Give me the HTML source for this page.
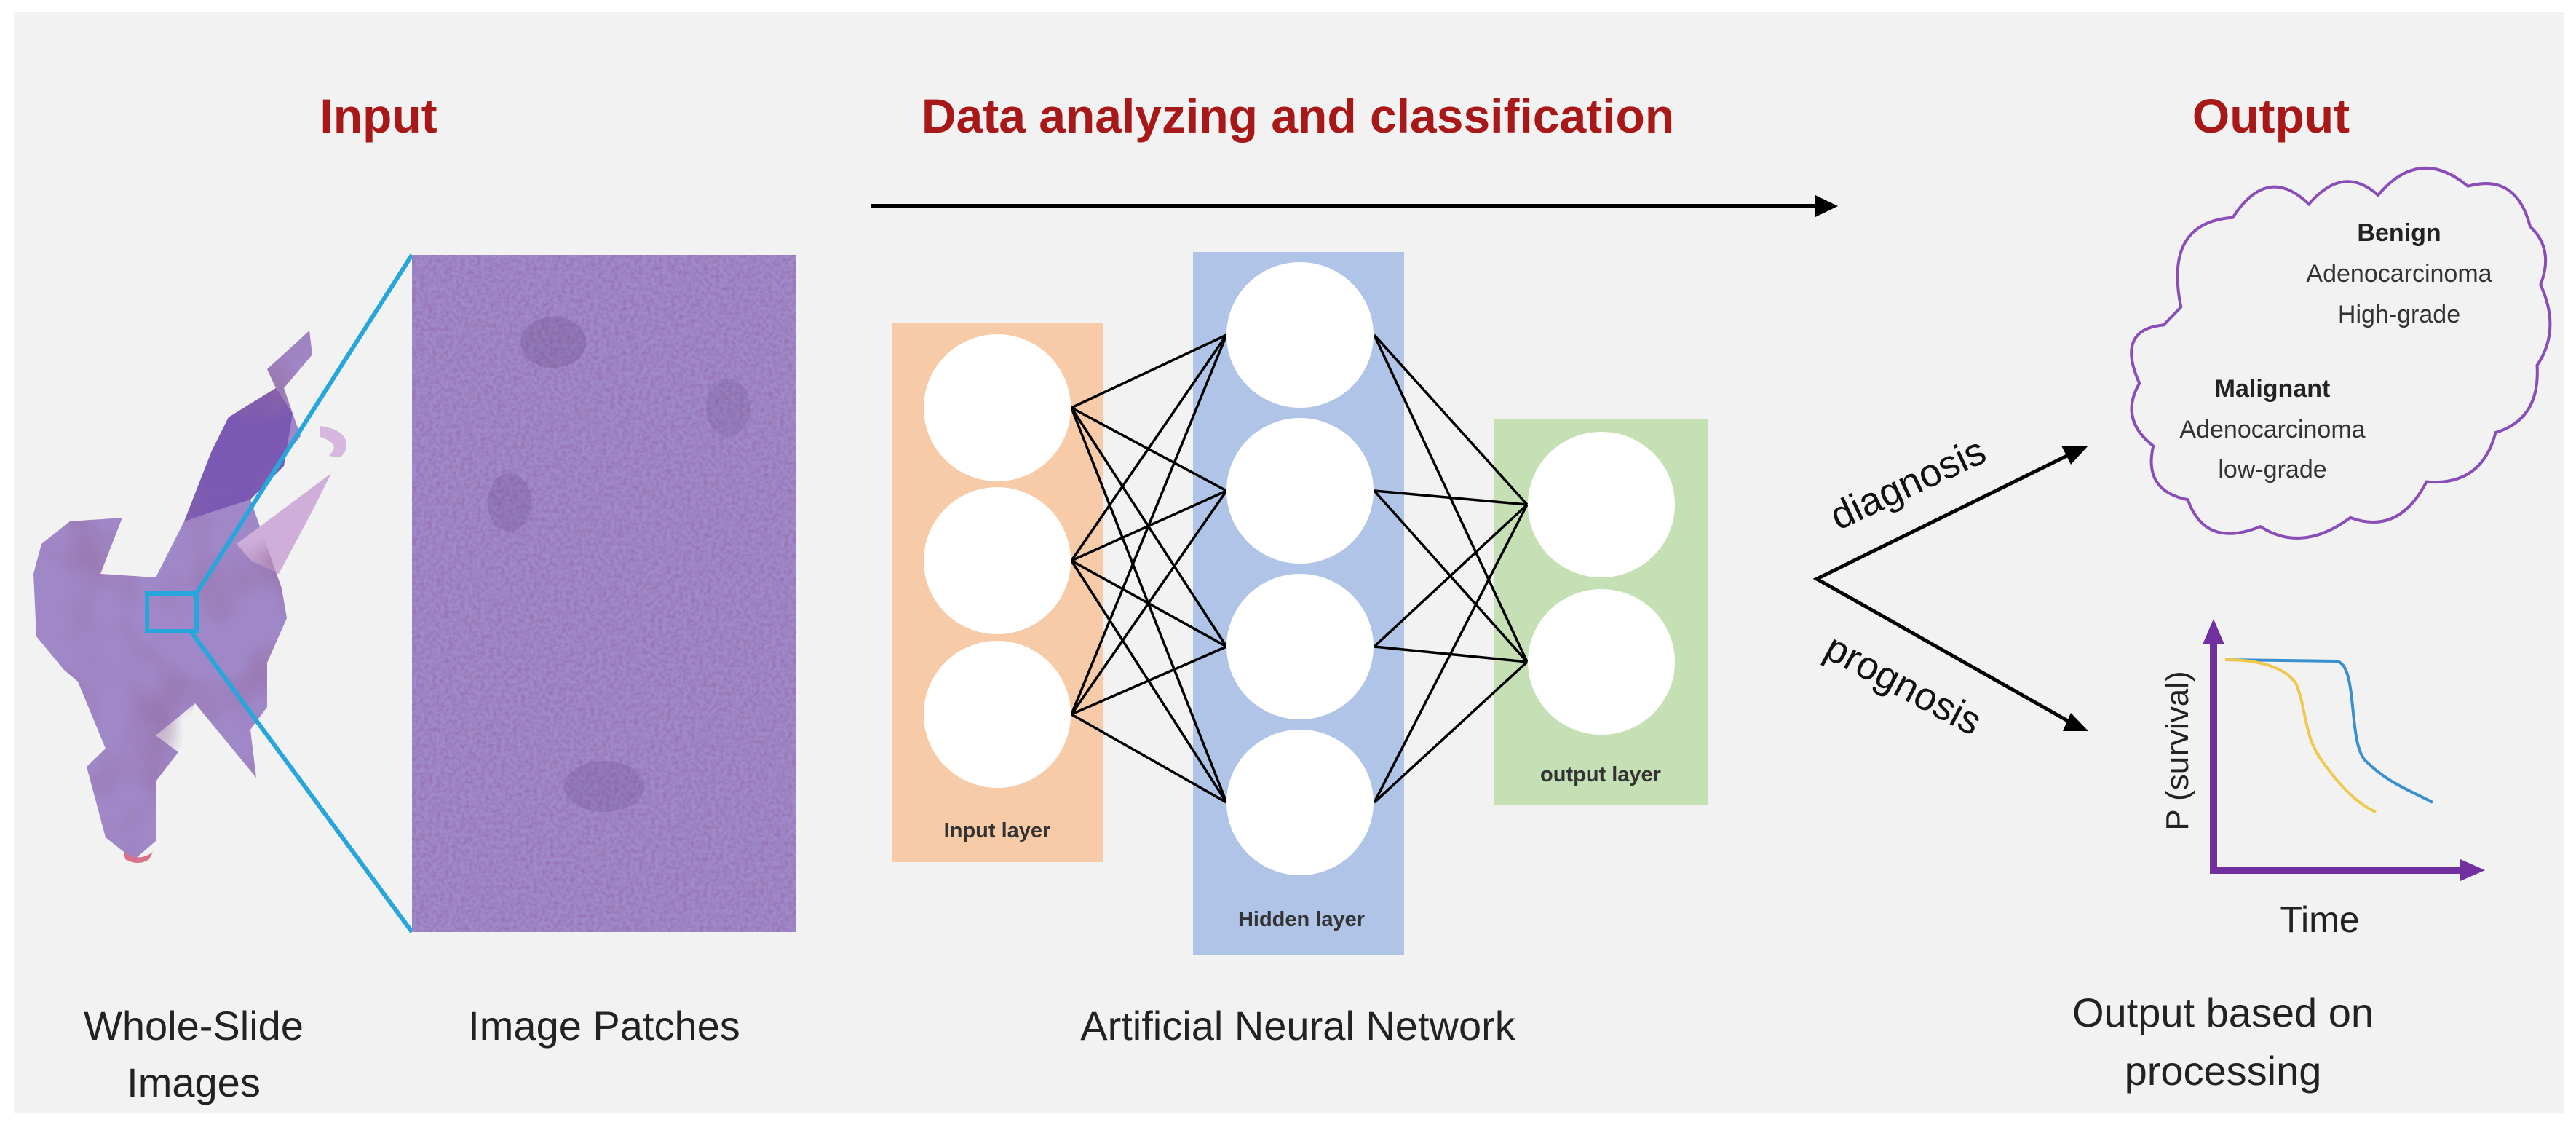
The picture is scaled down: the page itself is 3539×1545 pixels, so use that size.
<!DOCTYPE html>
<html><head><meta charset="utf-8">
<style>
html,body{margin:0;padding:0;background:#fff;}
svg{display:block;}
text{font-family:"Liberation Sans",sans-serif;}
</style></head>
<body>
<svg width="3539" height="1545" viewBox="0 0 3539 1545" xmlns="http://www.w3.org/2000/svg">
<defs>
<filter id="tex" x="0" y="0" width="100%" height="100%">
<feTurbulence type="fractalNoise" baseFrequency="0.18" numOctaves="3" seed="4" result="n"/>
<feColorMatrix in="n" type="matrix" values="0 0 0 0 0.3  0 0 0 0 0.15  0 0 0 0 0.4  0 0 0 -1.6 1.05" result="c"/>
<feComposite in="c" in2="SourceGraphic" operator="in"/>
</filter>
<filter id="tex2" x="0" y="0" width="100%" height="100%">
<feTurbulence type="fractalNoise" baseFrequency="0.012" numOctaves="2" seed="9" result="n"/>
<feColorMatrix in="n" type="matrix" values="0 0 0 0 0.3  0 0 0 0 0.15  0 0 0 0 0.35  0 0 0 -3 1.6" result="c"/>
<feComposite in="c" in2="SourceGraphic" operator="in"/>
</filter>
</defs>
<rect x="0" y="0" width="3539" height="1545" fill="#ffffff"/>
<rect x="19" y="16" width="3503" height="1512" fill="#f2f2f2"/>

<text x="520" y="182" font-size="66" font-weight="bold" fill="#a81818" text-anchor="middle">Input</text>
<text x="1783" y="182" font-size="66" font-weight="bold" fill="#a81818" text-anchor="middle">Data analyzing and classification</text>
<text x="3120" y="182" font-size="66" font-weight="bold" fill="#a81818" text-anchor="middle">Output</text>
<line x1="1196" y1="283" x2="2494" y2="283" stroke="#000" stroke-width="6"/>
<path d="M2494,268 L2525,283 L2494,298 z" fill="#000"/>

<g>
<path d="M46,788 L57,747 L96,716 L168,711 L138,788 L214,793 L253,716 L291,619 L314,573 L379,533 L367,507 L425,454 L429,487 L390,533 L413,599 L344,686 L387,808 L394,849 L367,910 L367,971 L344,1002 L352,1068 L268,966 L245,1033 L214,1073 L214,1155 L184,1181 L145,1150 L119,1053 L145,1028 L107,936 L88,920 L50,874 Z" fill="#a088c8"/>
<path d="M291,619 L314,573 L379,533 L402,568 L390,640 L344,686 L300,700 L253,716 Z" fill="#7a58b4"/>
<path d="M325,747 L455,650 L430,700 L383,788 L345,770 Z" fill="#cfaed9"/>
<path d="M440,585 Q478,590 476,615 Q470,635 452,625 Q470,610 440,600 Z" fill="#d6b8df"/>
<path d="M214,1010 L268,966 L290,1000 L245,1033 Z" fill="#f2f2f2"/>
<path d="M170,1170 Q190,1185 210,1170 L205,1180 Q190,1190 172,1180 Z" fill="#d8708a"/>
<path d="M46,788 L57,747 L96,716 L168,711 L138,788 L214,793 L253,716 L291,619 L314,573 L379,533 L367,507 L425,454 L429,487 L390,533 L413,599 L344,686 L387,808 L394,849 L367,910 L367,971 L344,1002 L352,1068 L268,966 L245,1033 L214,1073 L214,1155 L184,1181 L145,1150 L119,1053 L145,1028 L107,936 L88,920 L50,874 Z" fill="#fff" filter="url(#tex2)" opacity="0.5"/>
</g>
<line x1="271" y1="813" x2="566" y2="350" stroke="#27a6dc" stroke-width="6"/>
<line x1="262" y1="867" x2="566" y2="1280" stroke="#27a6dc" stroke-width="6"/>
<rect x="202" y="815" width="68" height="52" fill="none" stroke="#27a6dc" stroke-width="6"/>

<rect x="566" y="350" width="527" height="930" fill="#a08acb"/>
<rect x="566" y="350" width="527" height="930" fill="#a08acb" filter="url(#tex)"/>
<ellipse cx="760" cy="470" rx="45" ry="35" fill="#5a3a7a" opacity="0.22"/>
<ellipse cx="700" cy="690" rx="30" ry="40" fill="#5a3a7a" opacity="0.18"/>
<ellipse cx="830" cy="1080" rx="55" ry="35" fill="#5a3a7a" opacity="0.18"/>
<ellipse cx="1000" cy="560" rx="30" ry="40" fill="#5a3a7a" opacity="0.15"/>

<text x="266" y="1428" font-size="56" fill="#222" text-anchor="middle">Whole-Slide</text>
<text x="266" y="1506" font-size="56" fill="#222" text-anchor="middle">Images</text>
<text x="830" y="1428" font-size="56" fill="#222" text-anchor="middle">Image Patches</text>

<rect x="1225" y="444" width="290" height="740" fill="#f8cba8"/>
<rect x="1639" y="346" width="290" height="965" fill="#afc4e6"/>
<rect x="2052" y="576" width="294" height="529" fill="#c5e0b4"/>
<g stroke="#000" stroke-width="3.5" fill="none">
<path d="M1472,560 L1685,460 M1472,560 L1685,674 M1472,560 L1685,888 M1472,560 L1685,1102
M1472,770 L1685,460 M1472,770 L1685,674 M1472,770 L1685,888 M1472,770 L1685,1102
M1472,981 L1685,460 M1472,981 L1685,674 M1472,981 L1685,888 M1472,981 L1685,1102
M1888,460 L2098,693 M1888,460 L2098,909 M1888,674 L2098,693 M1888,674 L2098,909
M1888,888 L2098,693 M1888,888 L2098,909 M1888,1102 L2098,693 M1888,1102 L2098,909"/>
</g>
<g fill="#fff">
<ellipse cx="1370" cy="560" rx="101" ry="101"/>
<ellipse cx="1370" cy="770" rx="101" ry="101"/>
<ellipse cx="1370" cy="981" rx="101" ry="101"/>
<ellipse cx="1786" cy="460" rx="101" ry="100"/>
<ellipse cx="1786" cy="674" rx="101" ry="100"/>
<ellipse cx="1786" cy="888" rx="101" ry="100"/>
<ellipse cx="1786" cy="1102" rx="101" ry="100"/>
<ellipse cx="2200" cy="693" rx="101" ry="100"/>
<ellipse cx="2200" cy="909" rx="101" ry="100"/>
</g>
<text x="1370" y="1150" font-size="29" font-weight="bold" fill="#333" text-anchor="middle">Input layer</text>
<text x="1788" y="1272" font-size="29" font-weight="bold" fill="#333" text-anchor="middle">Hidden layer</text>
<text x="2199" y="1073" font-size="29" font-weight="bold" fill="#333" text-anchor="middle">output layer</text>
<text x="1783" y="1428" font-size="56" fill="#222" text-anchor="middle">Artificial Neural Network</text>

<polyline points="2862,615 2496,795 2862,1002" fill="none" stroke="#000" stroke-width="5"/>
<path d="M2869,612 L2832,612 L2845,638 z" fill="#000"/>
<path d="M2869,1004 L2845,979 L2834,1004 z" fill="#000"/>
<text x="2622" y="682" font-size="54" fill="#111" text-anchor="middle" transform="rotate(-25 2622 666)">diagnosis</text>
<text x="2614" y="958" font-size="54" fill="#111" text-anchor="middle" transform="rotate(28 2614 942)">prognosis</text>

<path transform="matrix(0.95 0 0 1.23 160.5 -14.85)" vector-effect="non-scaling-stroke" d="M2985,355 Q2960,260 3060,255 Q3110,195 3170,240 Q3220,195 3270,230 Q3330,175 3400,220 Q3470,205 3490,265 Q3525,290 3505,330 Q3535,380 3500,420 Q3505,480 3440,495 Q3420,555 3340,550 Q3300,610 3230,590 Q3160,630 3100,600 Q3020,625 2995,570 Q2930,560 2945,510 Q2895,480 2925,440 Q2890,380 2960,375 Z" fill="none" stroke="#8a4db8" stroke-width="4"/>
<text x="3296" y="331" font-size="34" font-weight="bold" fill="#222" text-anchor="middle">Benign</text>
<text x="3296" y="387" font-size="34" fill="#333" text-anchor="middle">Adenocarcinoma</text>
<text x="3296" y="443" font-size="34" fill="#333" text-anchor="middle">High-grade</text>
<text x="3122" y="545" font-size="34" font-weight="bold" fill="#222" text-anchor="middle">Malignant</text>
<text x="3122" y="601" font-size="34" fill="#333" text-anchor="middle">Adenocarcinoma</text>
<text x="3122" y="656" font-size="34" fill="#333" text-anchor="middle">low-grade</text>

<line x1="3041" y1="1195" x2="3041" y2="880" stroke="#7030a0" stroke-width="10"/>
<path d="M3041,850 L3026,885 L3056,885 z" fill="#7030a0"/>
<line x1="3036" y1="1195" x2="3385" y2="1195" stroke="#7030a0" stroke-width="10"/>
<path d="M3414,1195 L3380,1180 L3380,1210 z" fill="#7030a0"/>
<path d="M3057,906 L3210,908 C3240,912 3225,1020 3250,1045 C3280,1075 3310,1085 3342,1102" fill="none" stroke="#3a8fd0" stroke-width="4"/>
<path d="M3057,906 C3100,906 3140,915 3155,940 C3170,980 3165,1010 3190,1045 C3215,1080 3240,1105 3264,1115" fill="none" stroke="#f0c850" stroke-width="4"/>
<text x="2991" y="1046" font-size="44" fill="#222" text-anchor="middle" transform="rotate(-90 2991 1031)">P (survival)</text>
<text x="3187" y="1280" font-size="50" fill="#222" text-anchor="middle">Time</text>
<text x="3054" y="1410" font-size="56" fill="#222" text-anchor="middle">Output based on</text>
<text x="3054" y="1490" font-size="56" fill="#222" text-anchor="middle">processing</text>
</svg>
</body></html>
